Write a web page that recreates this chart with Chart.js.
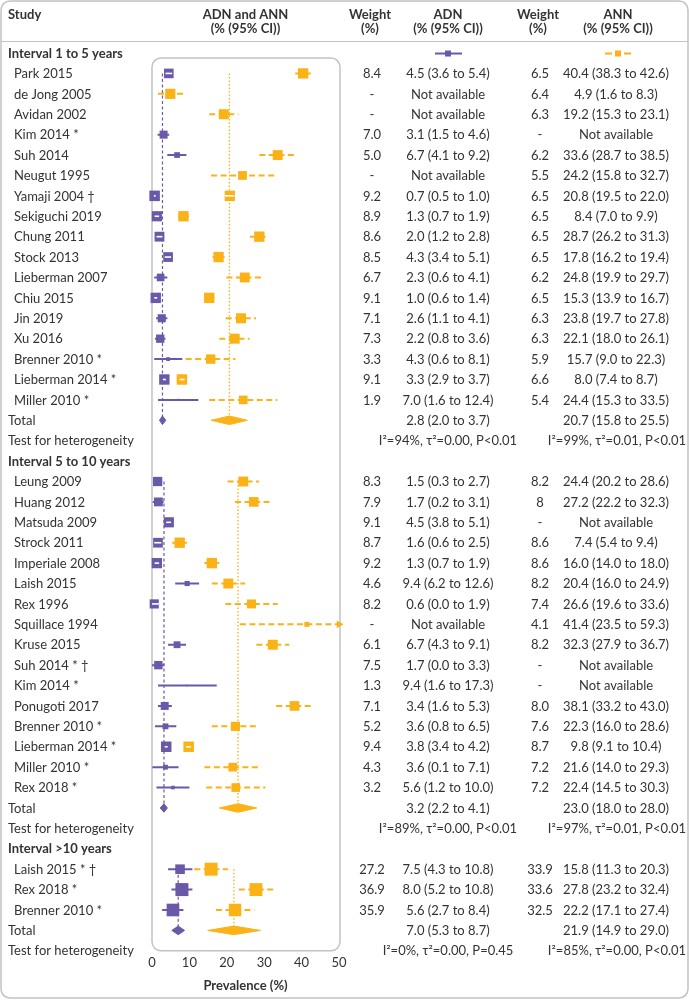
<!DOCTYPE html>
<html>
<head>
<meta charset="utf-8">
<title>ADN and ANN prevalence forest plot</title>
<script src="https://cdn.jsdelivr.net/npm/chart.js@4.4.1/dist/chart.umd.min.js"></script>
<style>
html,body{margin:0;padding:0;background:#fff;}
canvas{display:block;}
</style>
</head>
<body>
<canvas id="chart" width="689" height="1000"></canvas>
<script>
// ===================== DATA =====================
const sectionTitles = ['Interval 1 to 5 years', 'Interval 5 to 10 years', 'Interval >10 years'];
const xTicks = [0, 10, 20, 30, 40, 50];

// --- Interval 1 to 5 years ---
const names1 = ['Park 2015','de Jong 2005','Avidan 2002','Kim 2014 *','Suh 2014','Neugut 1995','Yamaji 2004 †','Sekiguchi 2019','Chung 2011','Stock 2013','Lieberman 2007','Chiu 2015','Jin 2019','Xu 2016','Brenner 2010 *','Lieberman 2014 *','Miller 2010 *'];
const adnW1   = ['8.4','-','-','7.0','5.0','-','9.2','8.9','8.6','8.5','6.7','9.1','7.1','7.3','3.3','9.1','1.9'];
const adnEst1 = [4.5,null,null,3.1,6.7,null,0.7,1.3,2.0,4.3,2.3,1.0,2.6,2.2,4.3,3.3,7.0];
const adnLo1  = [3.6,null,null,1.5,4.1,null,0.5,0.7,1.2,3.4,0.6,0.6,1.1,0.8,0.6,2.9,1.6];
const adnHi1  = [5.4,null,null,4.6,9.2,null,1.0,1.9,2.8,5.1,4.1,1.4,4.1,3.6,8.1,3.7,12.4];
const annW1   = ['6.5','6.4','6.3','-','6.2','5.5','6.5','6.5','6.5','6.5','6.2','6.5','6.3','6.3','5.9','6.6','5.4'];
const annEst1 = [40.4,4.9,19.2,null,33.6,24.2,20.8,8.4,28.7,17.8,24.8,15.3,23.8,22.1,15.7,8.0,24.4];
const annLo1  = [38.3,1.6,15.3,null,28.7,15.8,19.5,7.0,26.2,16.2,19.9,13.9,19.7,18.0,9.0,7.4,15.3];
const annHi1  = [42.6,8.3,23.1,null,38.5,32.7,22.0,9.9,31.3,19.4,29.7,16.7,27.8,26.1,22.3,8.7,33.5];

// --- Interval 5 to 10 years ---
const names2 = ['Leung 2009','Huang 2012','Matsuda 2009','Strock 2011','Imperiale 2008','Laish 2015','Rex 1996','Squillace 1994','Kruse 2015','Suh 2014 * †','Kim 2014 *','Ponugoti 2017','Brenner 2010 *','Lieberman 2014 *','Miller 2010 *','Rex 2018 *'];
const adnW2   = ['8.3','7.9','9.1','8.7','9.2','4.6','8.2','-','6.1','7.5','1.3','7.1','5.2','9.4','4.3','3.2'];
const adnEst2 = [1.5,1.7,4.5,1.6,1.3,9.4,0.6,null,6.7,1.7,9.4,3.4,3.6,3.8,3.6,5.6];
const adnLo2  = [0.3,0.2,3.8,0.6,0.7,6.2,0.0,null,4.3,0.0,1.6,1.6,0.8,3.4,0.1,1.2];
const adnHi2  = [2.7,3.1,5.1,2.5,1.9,12.6,1.9,null,9.1,3.3,17.3,5.3,6.5,4.2,7.1,10.0];
const annW2   = ['8.2','8','-','8.6','8.6','8.2','7.4','4.1','8.2','-','-','8.0','7.6','8.7','7.2','7.2'];
const annEst2 = [24.4,27.2,null,7.4,16.0,20.4,26.6,41.4,32.3,null,null,38.1,22.3,9.8,21.6,22.4];
const annLo2  = [20.2,22.2,null,5.4,14.0,16.0,19.6,23.5,27.9,null,null,33.2,16.0,9.1,14.0,14.5];
const annHi2  = [28.6,32.3,null,9.4,18.0,24.9,33.6,59.3,36.7,null,null,43.0,28.6,10.4,29.3,30.3];

// --- Interval >10 years ---
const names3 = ['Laish 2015 * †','Rex 2018 *','Brenner 2010 *'];
const adnW3   = ['27.2','36.9','35.9'];
const adnEst3 = [7.5,8.0,5.6];
const adnLo3  = [4.3,5.2,2.7];
const adnHi3  = [10.8,10.8,8.4];
const annW3   = ['33.9','33.6','32.5'];
const annEst3 = [15.8,27.8,22.2];
const annLo3  = [11.3,23.2,17.1];
const annHi3  = [20.3,32.4,27.4];

// --- Pooled totals per interval ---
const adnTotEst = [2.8, 3.2, 7.0];
const adnTotLo  = [2.0, 2.2, 5.3];
const adnTotHi  = [3.7, 4.1, 8.7];
const annTotEst = [20.7, 23.0, 21.9];
const annTotLo  = [15.8, 18.0, 14.9];
const annTotHi  = [25.5, 28.0, 29.0];
const adnHet = ['I²=94%, τ²=0.00, P<0.01', 'I²=89%, τ²=0.00, P<0.01', 'I²=0%, τ²=0.00, P=0.45'];
const annHet = ['I²=99%, τ²=0.01, P<0.01', 'I²=97%, τ²=0.01, P<0.01', 'I²=85%, τ²=0.00, P<0.01'];

// ===================== STYLE =====================
const PURPLE = '#6a58a8';
const ORANGE = '#fbb216';
const TEXT = '#333333';
const FRAME = '#c2c2c2';
const FONT = 'Lato, "Open Sans", sans-serif';
const FS = 13;
const maxSquare = [10.5, 10.5, 13];   // largest square side (px) per interval
const diamondHalf = 0.21;             // half height of pooled diamonds, in rows

// ===================== BUILD =====================
const sections = [
  {title: sectionTitles[0], names: names1, adnW: adnW1, adnEst: adnEst1, adnLo: adnLo1, adnHi: adnHi1, annW: annW1, annEst: annEst1, annLo: annLo1, annHi: annHi1},
  {title: sectionTitles[1], names: names2, adnW: adnW2, adnEst: adnEst2, adnLo: adnLo2, adnHi: adnHi2, annW: annW2, annEst: annEst2, annLo: annLo2, annHi: annHi2},
  {title: sectionTitles[2], names: names3, adnW: adnW3, adnEst: adnEst3, adnLo: adnLo3, adnHi: adnHi3, annW: annW3, annEst: annEst3, annLo: annLo3, annHi: annHi3}
];
let r = 0;
sections.forEach(s => {
  s.headRow = r++;
  s.first = r;
  r += s.names.length;
  s.totalRow = r++;
  s.hetRow = r++;
});
const lastRow = r - 1;
const xMin = xTicks[0], xMax = xTicks[xTicks.length - 1];

const fmt = v => v.toFixed(1);
const ciText = (e, lo, hi) => e == null ? 'Not available' : `${fmt(e)} (${fmt(lo)} to ${fmt(hi)})`;

function sideOf(s, si, key, i) {
  const ws = s[key + 'W'].map(parseFloat).filter(v => !isNaN(v));
  const w = parseFloat(s[key + 'W'][i]);
  return maxSquare[si] * w / Math.max(...ws);
}
function ciData(key) {
  const d = [];
  sections.forEach((s, si) => s.names.forEach((n, i) => {
    const lo = s[key + 'Lo'][i], hi = s[key + 'Hi'][i];
    if (lo == null) return;
    const y = s.first + i;
    const side = sideOf(s, si, key, i);
    d.push({x: lo, y, side}, {x: Math.min(hi, xMax + 2), y, side}, {x: null, y: null});
  }));
  return d;
}
function sqData(key) {
  const data = [], radii = [];
  sections.forEach((s, si) => s.names.forEach((n, i) => {
    const e = s[key + 'Est'][i];
    if (e == null) return;
    data.push({x: e, y: s.first + i});
    radii.push(sideOf(s, si, key, i) / Math.SQRT2);
  }));
  return {data, radii};
}
const lineBase = {type: 'line', pointRadius: 0, pointHoverRadius: 0, spanGaps: false, tension: 0, borderCapStyle: 'butt', fill: false};

const datasets = [];
// pooled-estimate reference lines
sections.forEach((s, si) => {
  datasets.push(Object.assign({}, lineBase, {
    data: [{x: adnTotEst[si], y: s.first}, {x: adnTotEst[si], y: s.totalRow}],
    borderColor: PURPLE, borderWidth: 1.2, borderDash: [3, 2.5], order: 30
  }));
  datasets.push(Object.assign({}, lineBase, {
    data: [{x: annTotEst[si], y: s.first}, {x: annTotEst[si], y: s.totalRow}],
    borderColor: ORANGE, borderWidth: 1.3, borderDash: [1.5, 2], order: 30
  }));
});
// confidence interval lines
datasets.push(Object.assign({}, lineBase, {
  data: ciData('ann'), borderColor: ORANGE, borderWidth: 2, borderDash: [6, 3.5], order: 25,
  clip: {left: 6, top: 6, right: 0, bottom: 6}
}));
datasets.push(Object.assign({}, lineBase, {
  data: ciData('adn'), borderColor: PURPLE, borderWidth: 2, order: 24
}));
// study squares
const sqAnn = sqData('ann'), sqAdn = sqData('adn');
datasets.push({type: 'scatter', data: sqAnn.data, pointStyle: 'rect', pointRadius: sqAnn.radii, pointHoverRadius: sqAnn.radii,
  pointBackgroundColor: ORANGE, pointBorderWidth: 0, order: 20, clip: false});
datasets.push({type: 'scatter', data: sqAdn.data, pointStyle: 'rect', pointRadius: sqAdn.radii, pointHoverRadius: sqAdn.radii,
  pointBackgroundColor: PURPLE, pointBorderWidth: 0, order: 19, clip: false});
// CI drawn in white where it lies inside its square
['adn', 'ann'].forEach(key => {
  datasets.push(Object.assign({}, lineBase, {
    data: ciData(key), borderColor: 'rgba(255,255,255,0)', borderWidth: 1.6, order: 15, clip: false,
    segment: {
      borderColor: ctx => {
        const ds = ctx.chart.data.datasets[ctx.datasetIndex];
        const side = ds.data[ctx.p0DataIndex].side;
        return (ctx.p1.x - ctx.p0.x) < side - 0.5 ? '#ffffff' : 'rgba(255,255,255,0)';
      }
    }
  }));
});
// pooled diamonds
sections.forEach((s, si) => {
  const t = s.totalRow;
  [[adnTotEst, adnTotLo, adnTotHi, PURPLE], [annTotEst, annTotLo, annTotHi, ORANGE]].forEach(([E, L, H, c]) => {
    datasets.push(Object.assign({}, lineBase, {
      data: [{x: L[si], y: t}, {x: E[si], y: t - diamondHalf}, {x: H[si], y: t}, {x: E[si], y: t + diamondHalf}, {x: L[si], y: t}],
      borderColor: c, backgroundColor: c, borderWidth: 1, fill: 'shape', order: 10, clip: false
    }));
  });
});
// arrows for intervals beyond the axis
const arrows = [];
sections.forEach(s => s.names.forEach((n, i) => {
  if (s.annHi[i] != null && s.annHi[i] > xMax) arrows.push({x: xMax, y: s.first + i});
}));
datasets.push({type: 'scatter', data: arrows, pointStyle: 'triangle', pointRotation: 90, pointRadius: 4.5, pointHoverRadius: 4.5,
  pointBackgroundColor: ORANGE, pointBorderWidth: 0, order: 5, clip: false});

// ===================== PLUGIN: frame, columns, text =====================
const COL = {study: 14, head: 8, wAdn: 372, adn: 448, wAnn: 540, ann: 616};
function txt(ctx, s, x, y, align, bold) {
  ctx.font = (bold ? 'bold ' : '') + FS + 'px ' + FONT;
  ctx.textAlign = align;
  ctx.textBaseline = 'middle';
  ctx.fillStyle = TEXT;
  ctx.fillText(s, x, y);
}
function roundRect(ctx, x, y, w, h, rad) {
  ctx.beginPath();
  ctx.moveTo(x + rad, y);
  ctx.arcTo(x + w, y, x + w, y + h, rad);
  ctx.arcTo(x + w, y + h, x, y + h, rad);
  ctx.arcTo(x, y + h, x, y, rad);
  ctx.arcTo(x, y, x + w, y, rad);
  ctx.closePath();
}
const forestPlugin = {
  id: 'forest',
  beforeDatasetsDraw(chart) {
    const {ctx, chartArea: a} = chart;
    ctx.save();
    ctx.strokeStyle = FRAME;
    ctx.lineWidth = 1.5;
    roundRect(ctx, a.left, a.top, a.right - a.left + 1, a.bottom - a.top, 9);
    ctx.stroke();
    ctx.restore();
  },
  afterDraw(chart) {
    const {ctx} = chart;
    const ys = chart.scales.y, xs = chart.scales.x;
    const Y = v => ys.getPixelForValue(v) + 0.5;
    ctx.save();
    // outer frame + header divider
    ctx.strokeStyle = FRAME;
    ctx.lineWidth = 1.5;
    roundRect(ctx, 1, 1, chart.width - 2, chart.height - 3, 9);
    ctx.stroke();
    ctx.beginPath();
    ctx.moveTo(1, 41.5); ctx.lineTo(chart.width - 1, 41.5);
    ctx.lineWidth = 1.2;
    ctx.stroke();
    // header
    const midPlot = (xs.getPixelForValue(xMin) + xs.getPixelForValue(xMax)) / 2;
    txt(ctx, 'Study', 8, 15, 'left', true);
    txt(ctx, 'ADN and ANN', midPlot, 15, 'center', true);
    txt(ctx, '(% (95% CI))', midPlot, 29, 'center', true);
    txt(ctx, 'Weight', COL.wAdn - 2, 15, 'center', true);
    txt(ctx, '(%)', COL.wAdn - 2, 29, 'center', true);
    txt(ctx, 'ADN', COL.adn, 15, 'center', true);
    txt(ctx, '(% (95% CI))', COL.adn, 29, 'center', true);
    txt(ctx, 'Weight', COL.wAnn - 2, 15, 'center', true);
    txt(ctx, '(%)', COL.wAnn - 2, 29, 'center', true);
    txt(ctx, 'ANN', COL.ann + 2, 15, 'center', true);
    txt(ctx, '(% (95% CI))', COL.ann + 2, 29, 'center', true);
    // rows
    sections.forEach((s, si) => {
      txt(ctx, s.title, COL.head, Y(s.headRow), 'left', true);
      s.names.forEach((n, i) => {
        const y = Y(s.first + i);
        txt(ctx, n, COL.study, y, 'left', false);
        txt(ctx, s.adnW[i], COL.wAdn, y, 'center', false);
        txt(ctx, ciText(s.adnEst[i], s.adnLo[i], s.adnHi[i]), COL.adn, y, 'center', false);
        txt(ctx, s.annW[i], COL.wAnn, y, 'center', false);
        txt(ctx, ciText(s.annEst[i], s.annLo[i], s.annHi[i]), COL.ann, y, 'center', false);
      });
      const yt = Y(s.totalRow);
      txt(ctx, 'Total', COL.head, yt, 'left', false);
      txt(ctx, ciText(adnTotEst[si], adnTotLo[si], adnTotHi[si]), COL.adn, yt, 'center', false);
      txt(ctx, ciText(annTotEst[si], annTotLo[si], annTotHi[si]), COL.ann, yt, 'center', false);
      const yh = Y(s.hetRow);
      txt(ctx, 'Test for heterogeneity', COL.head, yh, 'left', false);
      txt(ctx, adnHet[si], COL.adn, yh, 'center', false);
      txt(ctx, annHet[si], COL.ann + 1, yh, 'center', false);
    });
    // legend keys in the first interval row
    const yl = Y(sections[0].headRow);
    ctx.lineWidth = 2;
    ctx.strokeStyle = PURPLE;
    ctx.setLineDash([]);
    ctx.beginPath(); ctx.moveTo(COL.adn - 13, yl); ctx.lineTo(COL.adn + 14, yl); ctx.stroke();
    ctx.fillStyle = PURPLE;
    ctx.fillRect(COL.adn - 3, yl - 3, 6, 6);
    ctx.strokeStyle = ORANGE;
    ctx.beginPath(); ctx.moveTo(COL.ann - 11, yl); ctx.lineTo(COL.ann - 4, yl); ctx.stroke();
    ctx.beginPath(); ctx.moveTo(COL.ann + 8, yl); ctx.lineTo(COL.ann + 15, yl); ctx.stroke();
    ctx.fillStyle = ORANGE;
    ctx.fillRect(COL.ann - 1, yl - 3, 6, 6);
    ctx.restore();
  }
};

// ===================== CHART =====================
new Chart(document.getElementById('chart'), {
  type: 'scatter',
  data: {datasets},
  options: {
    responsive: false,
    devicePixelRatio: 1,
    animation: false,
    events: [],
    layout: {padding: {top: 58, left: 152, right: 350, bottom: 4}},
    plugins: {legend: {display: false}, tooltip: {enabled: false}},
    scales: {
      x: {
        type: 'linear', min: xMin, max: xMax,
        afterBuildTicks: scale => { scale.ticks = xTicks.map(v => ({value: v})); },
        grid: {display: false, drawTicks: false},
        border: {display: false},
        ticks: {color: TEXT, font: {family: FONT, size: FS}, padding: 4, maxRotation: 0},
        title: {display: true, text: 'Prevalence (%)', color: TEXT, font: {family: FONT, size: FS, weight: 'bold'}, padding: {top: 4, bottom: 2}}
      },
      y: {
        type: 'linear', reverse: true, min: 0.244, max: lastRow,
        display: false
      }
    }
  },
  plugins: [forestPlugin]
});
</script>
</body>
</html>
